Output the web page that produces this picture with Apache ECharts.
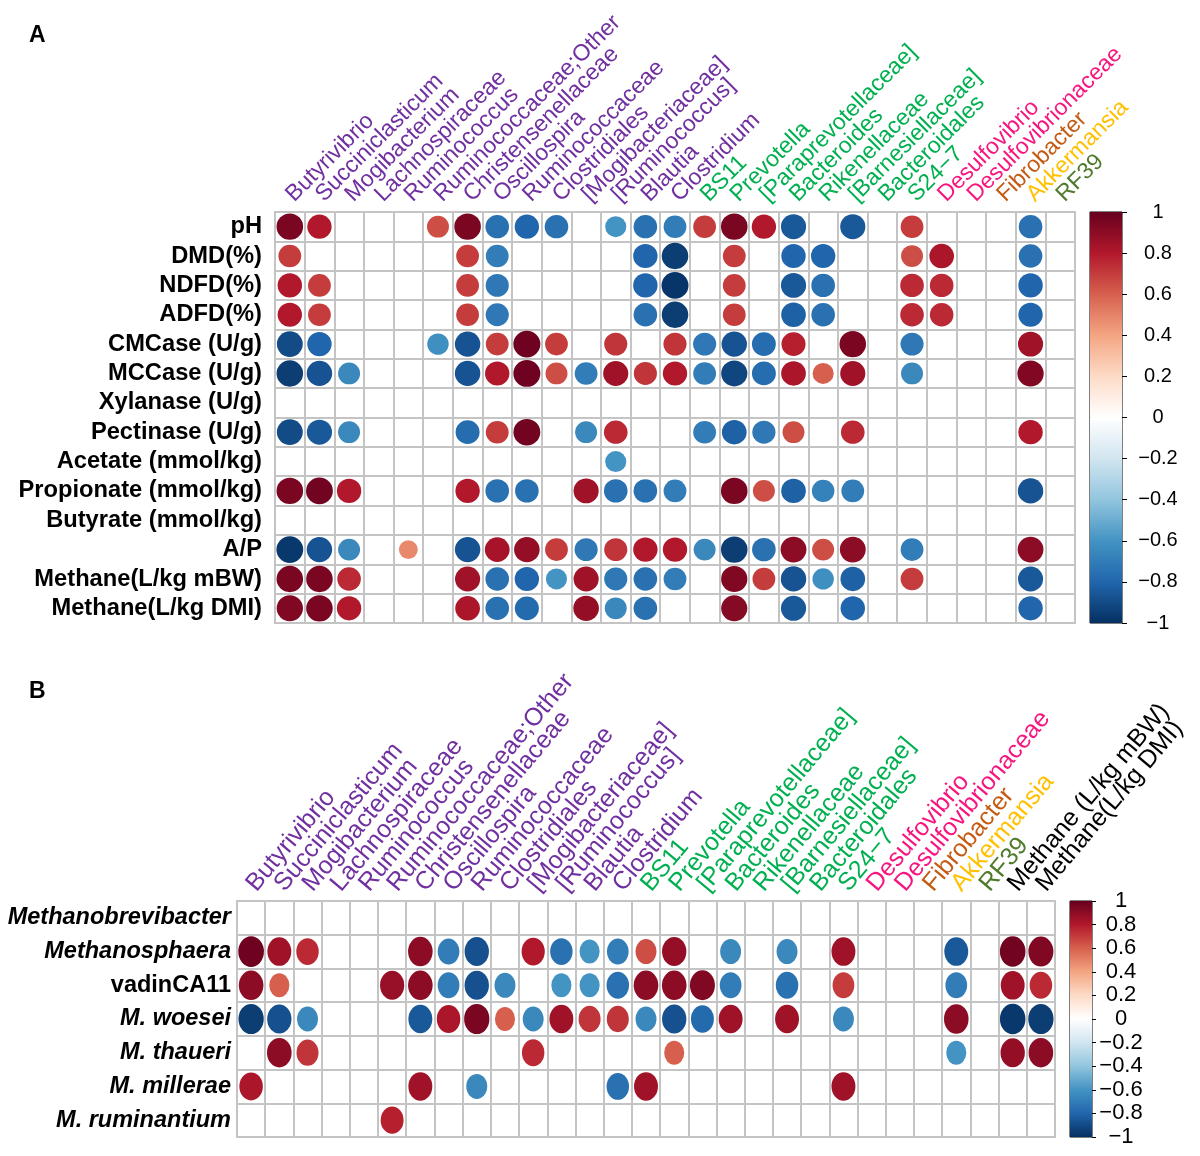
<!DOCTYPE html>
<html><head><meta charset="utf-8">
<script src="https://cdn.jsdelivr.net/npm/echarts@6/dist/echarts.min.js"></script>
<style>html,body{margin:0;padding:0;background:#fff}#c{width:1200px;height:1156px}</style>
</head><body><div id="c"></div>
<script>
const _ = null;
// ---------- Panel A ----------
const taxaA = ['Butyrivibrio','Succiniclasticum','Mogibacterium','Lachnospiraceae','Ruminococcus',
  'Ruminococcaceae;Other','Christensenellaceae','Oscillospira','Ruminococcaceae','Clostridiales',
  '[Mogibacteriaceae]','[Ruminococcus]','Blautia','Clostridium','BS11','Prevotella',
  '[Paraprevotellaceae]','Bacteroides','Rikenellaceae','[Barnesiellaceae]','Bacteroidales','S24\u22127',
  'Desulfovibrio','Desulfovibrionaceae','Fibrobacter','Akkermansia','RF39'];
const taxaGroupA = ['Firmicutes','Firmicutes','Firmicutes','Firmicutes','Firmicutes','Firmicutes','Firmicutes',
  'Firmicutes','Firmicutes','Firmicutes','Firmicutes','Firmicutes','Firmicutes','Firmicutes',
  'Bacteroidetes','Bacteroidetes','Bacteroidetes','Bacteroidetes','Bacteroidetes','Bacteroidetes','Bacteroidetes','Bacteroidetes',
  'Proteobacteria','Proteobacteria','Fibrobacteres','Verrucomicrobia','Tenericutes'];
const paramsA = ['pH','DMD(%)','NDFD(%)','ADFD(%)','CMCase (U/g)','MCCase (U/g)','Xylanase (U/g)',
  'Pectinase (U/g)','Acetate (mmol/kg)','Propionate (mmol/kg)','Butyrate (mmol/kg)','A/P',
  'Methane(L/kg mBW)','Methane(L/kg DMI)'];
const corrA = [
  [0.95,0.8,_,_,_,0.65,0.95,-0.75,-0.8,-0.75,_,-0.6,-0.75,-0.7,0.7,0.95,0.8,-0.85,_,-0.85,_,0.7,_,_,_,-0.75,_],
  [0.7,_,_,_,_,_,0.7,-0.7,_,_,_,_,-0.8,-0.95,_,0.7,_,-0.8,-0.8,_,_,0.65,0.82,_,_,-0.75,_],
  [0.8,0.7,_,_,_,_,0.7,-0.72,_,_,_,_,-0.8,-0.98,_,0.7,_,-0.85,-0.75,_,_,0.75,0.75,_,_,-0.8,_],
  [0.8,0.7,_,_,_,_,0.7,-0.72,_,_,_,_,-0.75,-0.95,_,0.7,_,-0.82,-0.75,_,_,0.75,0.75,_,_,-0.8,_],
  [-0.9,-0.8,_,_,_,-0.62,-0.87,0.7,0.98,0.7,_,0.72,_,0.72,-0.72,-0.87,-0.77,0.78,_,0.95,_,-0.72,_,_,_,0.85,_],
  [-0.95,-0.87,-0.65,_,_,_,-0.87,0.8,0.98,0.65,-0.7,0.85,0.72,0.8,-0.7,-0.92,-0.77,0.82,0.6,0.85,_,-0.65,_,_,_,0.93,_],
  [_,_,_,_,_,_,_,_,_,_,_,_,_,_,_,_,_,_,_,_,_,_,_,_,_,_,_],
  [-0.9,-0.85,-0.65,_,_,_,-0.77,0.7,0.97,_,-0.65,0.75,_,_,-0.7,-0.82,-0.72,0.65,_,0.75,_,_,_,_,_,0.8,_],
  [_,_,_,_,_,_,_,_,_,_,_,-0.6,_,_,_,_,_,_,_,_,_,_,_,_,_,_,_],
  [0.95,0.97,0.8,_,_,_,0.8,-0.75,-0.75,_,0.85,-0.75,-0.75,-0.7,_,0.95,0.65,-0.82,-0.68,-0.7,_,_,_,_,_,-0.87,_],
  [_,_,_,_,_,_,_,_,_,_,_,_,_,_,_,_,_,_,_,_,_,_,_,_,_,_,_],
  [-0.97,-0.87,-0.65,_,0.48,_,-0.87,0.83,0.88,0.7,-0.72,0.72,0.8,0.8,-0.65,-0.95,-0.75,0.9,0.65,0.9,_,-0.7,_,_,_,0.9,_],
  [0.95,0.95,0.75,_,_,_,0.85,-0.75,-0.8,-0.6,0.85,-0.72,-0.75,-0.7,_,0.93,0.7,-0.87,-0.62,-0.82,_,0.7,_,_,_,-0.85,_],
  [0.93,0.95,0.8,_,_,_,0.82,-0.75,-0.78,_,0.88,-0.65,-0.75,_,_,0.92,_,-0.85,_,-0.8,_,_,_,_,_,-0.8,_]
];
// ---------- Panel B ----------
const taxaB = taxaA.concat(['Methane (L/kg mBW)','Methane(L/kg DMI)']);
const taxaGroupB = taxaGroupA.concat(['Methane','Methane']);
const archaeaB = ['Methanobrevibacter','Methanosphaera','vadinCA11','M. woesei','M. thaueri','M. millerae','M. ruminantium'];
const archaeaItalic = [true,true,false,true,true,true,true];
const corrB = [
  [_,_,_,_,_,_,_,_,_,_,_,_,_,_,_,_,_,_,_,_,_,_,_,_,_,_,_,_,_],
  [0.98,0.85,0.75,_,_,_,0.9,-0.7,-0.88,_,0.8,-0.75,-0.6,-0.7,0.65,0.88,_,-0.65,_,-0.65,_,0.85,_,_,_,-0.85,_,0.97,0.93],
  [0.9,0.6,_,_,_,0.87,0.9,-0.7,-0.88,-0.65,_,-0.6,-0.6,-0.75,0.9,0.9,0.93,-0.7,_,-0.75,_,0.7,_,_,_,-0.7,_,0.85,0.75],
  [-0.95,-0.88,-0.65,_,_,_,-0.85,0.82,0.95,0.6,-0.65,0.85,0.72,0.72,-0.65,-0.88,-0.78,0.85,_,0.85,_,-0.65,_,_,_,0.9,_,-0.97,-0.95],
  [_,0.9,0.72,_,_,_,_,_,_,_,0.75,_,_,_,_,0.6,_,_,_,_,_,_,_,_,_,-0.6,_,0.88,0.9],
  [0.82,_,_,_,_,_,0.85,_,-0.65,_,_,_,_,-0.75,0.85,_,_,_,_,_,_,0.85,_,_,_,_,_,_,_],
  [_,_,_,_,_,0.78,_,_,_,_,_,_,_,_,_,_,_,_,_,_,_,_,_,_,_,_,_,_,_]
];
const colorbarLimits = [1, -1];

// ---------- styles ----------
const groupColor = {Firmicutes:'#7030A0', Bacteroidetes:'#00B050', Proteobacteria:'#F7157F',
  Fibrobacteres:'#C55A11', Verrucomicrobia:'#FFC000', Tenericutes:'#4F7A2A', Methane:'#000000'};
const RdBu = ['#053061','#2166AC','#4393C3','#92C5DE','#D1E5F0','#FFFFFF','#FDDBC7','#F4A582','#D6604D','#B2182B','#67001F'];
const FONT = "'Liberation Sans', Arial, Helvetica, sans-serif";
const gA = {left:275, top:212, width:800, height:411};
const gB = {left:237, top:901, width:818, height:236};
const cbA = {left:1090, top:212, width:32, height:411};
const cbB = {left:1070, top:901, width:22, height:236};
const lineCol = '#C4C4C4';

function toPoints(m){ const out=[]; m.forEach((row,r)=>row.forEach((v,c)=>{ if(v!==null) out.push([c,r,v]); })); return out; }
function sizer(g, nc, nr){ const cw=g.width/nc, ch=g.height/nr; return v=>{ const s=0.92*Math.sqrt(Math.abs(v[2])); return [s*cw, s*ch]; }; }
function fmt(v){ const r=Math.round(v*10)/10; return r<0 ? '\u2212'+Math.abs(r) : String(Math.abs(r)); }

const chart = echarts.init(document.getElementById('c'), null, {renderer:'canvas'});
const catAxisCommon = {type:'category', axisLine:{show:false}, axisTick:{show:false},
  splitLine:{show:true, interval:0, lineStyle:{color:lineCol, width:2}}};

const gradPos = new echarts.graphic.LinearGradient(0,0,0,1,[
  {offset:0,color:RdBu[10]},{offset:0.2,color:RdBu[9]},{offset:0.4,color:RdBu[8]},
  {offset:0.6,color:RdBu[7]},{offset:0.8,color:RdBu[6]},{offset:1,color:RdBu[5]}]);
const gradNeg = new echarts.graphic.LinearGradient(0,0,0,1,[
  {offset:0,color:RdBu[5]},{offset:0.2,color:RdBu[4]},{offset:0.4,color:RdBu[3]},
  {offset:0.6,color:RdBu[2]},{offset:0.8,color:RdBu[1]},{offset:1,color:RdBu[0]}]);

function cbYAxis(gi, fs, margin, tickLen){
  return {type:'value', gridIndex:gi, min:-1, max:1, interval:0.2, position:'right',
    axisLine:{show:false}, splitLine:{show:false},
    axisTick:{show:true, length:tickLen, lineStyle:{color:'#000', width:1}},
    axisLabel:{margin:margin, align:'center', fontSize:fs, color:'#000', fontFamily:FONT, formatter:fmt}};
}

const option = {
  backgroundColor:'#fff',
  animation:false,
  textStyle:{fontFamily:FONT},
  title:[
    {text:'A', left:24, top:19, textStyle:{fontSize:23, fontWeight:'bold', color:'#000', fontFamily:FONT}},
    {text:'B', left:24, top:675, textStyle:{fontSize:23, fontWeight:'bold', color:'#000', fontFamily:FONT}}
  ],
  grid:[
    Object.assign({show:true, borderColor:lineCol, borderWidth:2, backgroundColor:'#fff'}, gA),
    Object.assign({show:true, borderColor:'#000', borderWidth:1}, cbA),
    Object.assign({show:true, borderColor:lineCol, borderWidth:2, backgroundColor:'#fff'}, gB),
    Object.assign({show:true, borderColor:'#000', borderWidth:1}, cbB)
  ],
  xAxis:[
    Object.assign({}, catAxisCommon, {gridIndex:0, position:'top',
      data: taxaA.map((t,i)=>({value:t, textStyle:{color:groupColor[taxaGroupA[i]]}})),
      axisLabel:{interval:0, rotate:-45, margin:14, fontSize:23, fontFamily:FONT}}),
    {type:'category', gridIndex:1, data:['cb'], show:false},
    Object.assign({}, catAxisCommon, {gridIndex:2, position:'top',
      data: taxaB.map((t,i)=>({value:t, textStyle:{color:groupColor[taxaGroupB[i]]}})),
      axisLabel:{interval:0, rotate:-50, margin:13, fontSize:25, fontFamily:FONT}}),
    {type:'category', gridIndex:3, data:['cb'], show:false}
  ],
  yAxis:[
    Object.assign({}, catAxisCommon, {gridIndex:0, inverse:true, data:paramsA,
      axisLabel:{interval:0, margin:13, fontSize:23.7, fontWeight:'bold', color:'#000', fontFamily:FONT}}),
    cbYAxis(1, 20, 36, 5),
    Object.assign({}, catAxisCommon, {gridIndex:2, inverse:true,
      data: archaeaB.map((t,i)=>({value:t, textStyle:{fontStyle: archaeaItalic[i]?'italic':'normal'}})),
      axisLabel:{interval:0, margin:6, fontSize:23.5, fontWeight:'bold', color:'#000', fontFamily:FONT}}),
    cbYAxis(3, 22, 29, 4)
  ],
  visualMap:{type:'continuous', show:false, min:-1, max:1, dimension:2, seriesIndex:[0,1], inRange:{color:RdBu}},
  series:[
    {type:'scatter', xAxisIndex:0, yAxisIndex:0, symbol:'circle', data:toPoints(corrA),
      symbolSize:sizer(gA, taxaA.length, paramsA.length), itemStyle:{opacity:1}, z:5},
    {type:'scatter', xAxisIndex:2, yAxisIndex:2, symbol:'circle', data:toPoints(corrB),
      symbolSize:sizer(gB, taxaB.length, archaeaB.length), itemStyle:{opacity:1}, z:5},
    {type:'bar', xAxisIndex:1, yAxisIndex:1, data:[colorbarLimits[0]], barWidth:'100%', barGap:'-100%', itemStyle:{color:gradPos}, silent:true},
    {type:'bar', xAxisIndex:1, yAxisIndex:1, data:[colorbarLimits[1]], barWidth:'100%', barGap:'-100%', itemStyle:{color:gradNeg}, silent:true},
    {type:'bar', xAxisIndex:3, yAxisIndex:3, data:[colorbarLimits[0]], barWidth:'100%', barGap:'-100%', itemStyle:{color:gradPos}, silent:true},
    {type:'bar', xAxisIndex:3, yAxisIndex:3, data:[colorbarLimits[1]], barWidth:'100%', barGap:'-100%', itemStyle:{color:gradNeg}, silent:true}
  ]
};
chart.setOption(option);
</script>
</body></html>
